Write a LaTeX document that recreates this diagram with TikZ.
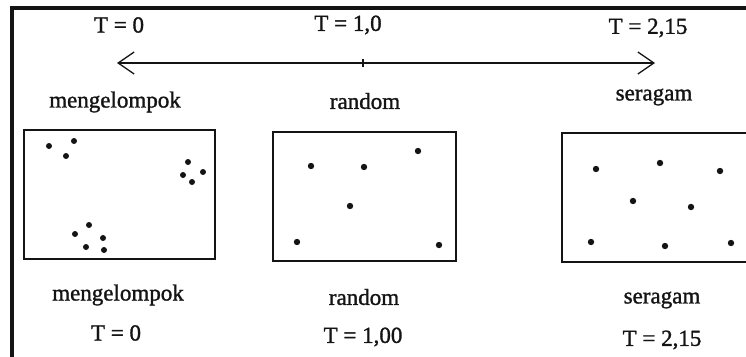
\documentclass[tikz,border=0pt]{standalone}
\usepackage{fontspec}
\setmainfont{Liberation Serif}[FakeBold=1.3]
\usepackage{xcolor}
\definecolor{cInk}{HTML}{141414}
\usetikzlibrary{positioning,arrows.meta}
\tikzset{
  lbl/.style={font=\fontsize{23}{27}\selectfont,text=cInk,inner sep=0pt,anchor=center},
  plot-box/.style={draw=cInk,line width=2pt},
  frame-line/.style={draw=cInk,line width=4pt},
  axis-arrow/.style={{Straight Barb[length=16pt,width=22pt]}-{Straight Barb[length=16pt,width=22pt]},draw=cInk,line width=1.3pt},
  dot/.style={fill=cInk},
}
\begin{document}
\begin{tikzpicture}[x=1pt,y=-1pt]
  \useasboundingbox (0,0) rectangle (746,356);
  \clip (0,0) rectangle (746,356);
  % bingkai halaman
  \coordinate (frameTL) at (12,8);
  \coordinate (frameTR) at (760,8);
  \coordinate (frameBL) at (12,370);
  \draw[frame-line] (frameBL) -- (frameTL) -- (frameTR);

  % sumbu indeks T
  \coordinate (axL) at (117,63);
  \coordinate (axM) at (363,63);
  \coordinate (axR) at (655,63);
  \draw[axis-arrow] (axL) -- (axR);
  \draw[draw=cInk,line width=1.3pt] ([yshift=-4]axM) -- ([yshift=4]axM);
  \node[lbl] (t0) at (119,25) {T = 0};
  \node[lbl] (t1) at (348,25) {T = 1,0};
  \node[lbl] (t2) at (648,28) {T = 2,15};
  \node[lbl] (kel) at (115,102) {mengelompok};
  \node[lbl] (ran) at (365,101) {random};
  \node[lbl] (ser) at (654,97) {seragam};

  % tiga pola sebaran
  \draw[plot-box] (24,130) rectangle (215,259);
  \draw[plot-box] (273,132) rectangle (456,261);
  \draw[plot-box] (562,133) rectangle (770,262);
  \foreach \p in {(49,146),(74,141),(66,156),(188,162),(183,175),(203,172),
    (192,182),(89,225),(75,234),(103,238),(86,247),(104,250)}
    \fill[dot] \p circle (3);
  \foreach \p in {(311,166),(364,167),(418,151),(350,206),(297,242),(439,245)}
    \fill[dot] \p circle (3.2);
  \foreach \p in {(596,169),(660,163),(720,171),(633,201),(691,207),
    (591,242),(665,246),(731,243)}
    \fill[dot] \p circle (3.2);

  \node[lbl] (kelB) at (118,295) {mengelompok};
  \node[lbl] (kelT) at (116,333) {T = 0};
  \node[lbl] (ranB) at (364,297) {random};
  \node[lbl] (ranT) at (363,337) {T = 1,00};
  \node[lbl] (serB) at (662,300) {seragam};
  \node[lbl] (serT) at (662,340) {T = 2,15};
\end{tikzpicture}
\end{document}
